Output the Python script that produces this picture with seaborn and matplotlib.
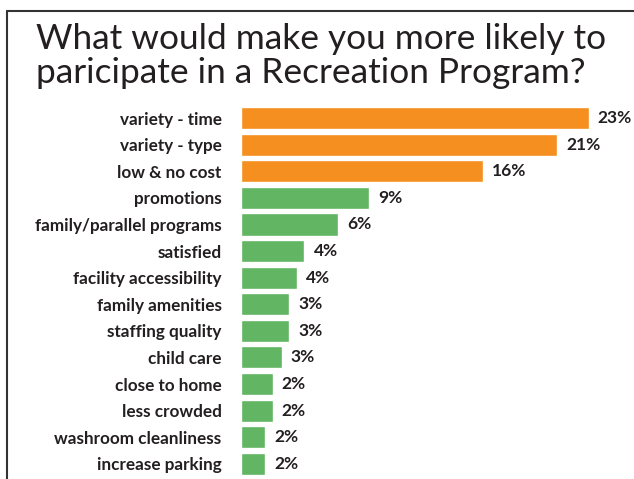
import matplotlib
matplotlib.use("Agg")
import matplotlib.pyplot as plt
from matplotlib.lines import Line2D
import pandas as pd
import seaborn as sns

# data
reasons = ["variety - time", "variety - type", "low & no cost", "promotions",
           "family/parallel programs", "satisfied", "facility accessibility",
           "family amenities", "staffing quality", "child care", "close to home",
           "less crowded", "washroom cleanliness", "increase parking"]
share = [23.0, 20.9, 16.0, 8.5, 6.4, 4.2, 3.7, 3.2, 3.2, 2.7, 2.1, 2.1, 1.6, 1.6]
shown = ["23%", "21%", "16%", "9%", "6%", "4%", "4%", "3%", "3%", "3%",
         "2%", "2%", "2%", "2%"]
group = ["top"] * 3 + ["rest"] * 11

df = pd.DataFrame({"reason": reasons, "share": share, "group": group})

sns.set_style("white")
plt.rcParams["font.family"] = ["Lato", "DejaVu Sans"]
text_col = "#231F20"

W, H = 634, 479
fig = plt.figure(figsize=(W / 100, H / 100), dpi=100)
ax = fig.add_axes([241 / W, 0, (W - 241) / W, 375 / H])

sns.barplot(data=df, x="share", y="reason", hue="group", dodge=False,
            palette={"top": "#F58F1F", "rest": "#62B562"}, width=0.83,
            legend=False, ax=ax, saturation=1)

ax.set_xlim(0, 26)
ax.set_ylim(13.57, -0.53)
ax.set_xlabel("")
ax.set_ylabel("")
ax.set_xticks([])
ax.tick_params(axis="y", length=0, pad=14, labelsize=12.3, labelcolor=text_col)
for lab in ax.get_yticklabels():
    lab.set_fontweight("bold")
sns.despine(ax=ax, left=True, bottom=True)

for i, (v, s) in enumerate(zip(share, shown)):
    ax.text(v + 0.6, i, s, va="center", ha="left", fontsize=12.5,
            fontweight="bold", color=text_col)

fig.text(36 / W, 1 - 23 / H, "What would make you more likely to\nparicipate in a Recreation Program?",
         ha="left", va="top", fontsize=25.4, color=text_col, linespacing=1.08)

# frame lines
fig.add_artist(Line2D([7 / W, 1], [1 - 11 / H, 1 - 11 / H], color="#333333", lw=1.5))
fig.add_artist(Line2D([7 / W, 7 / W], [0, 1 - 11 / H], color="#333333", lw=1.5))

fig.savefig("out.png", dpi=100)
